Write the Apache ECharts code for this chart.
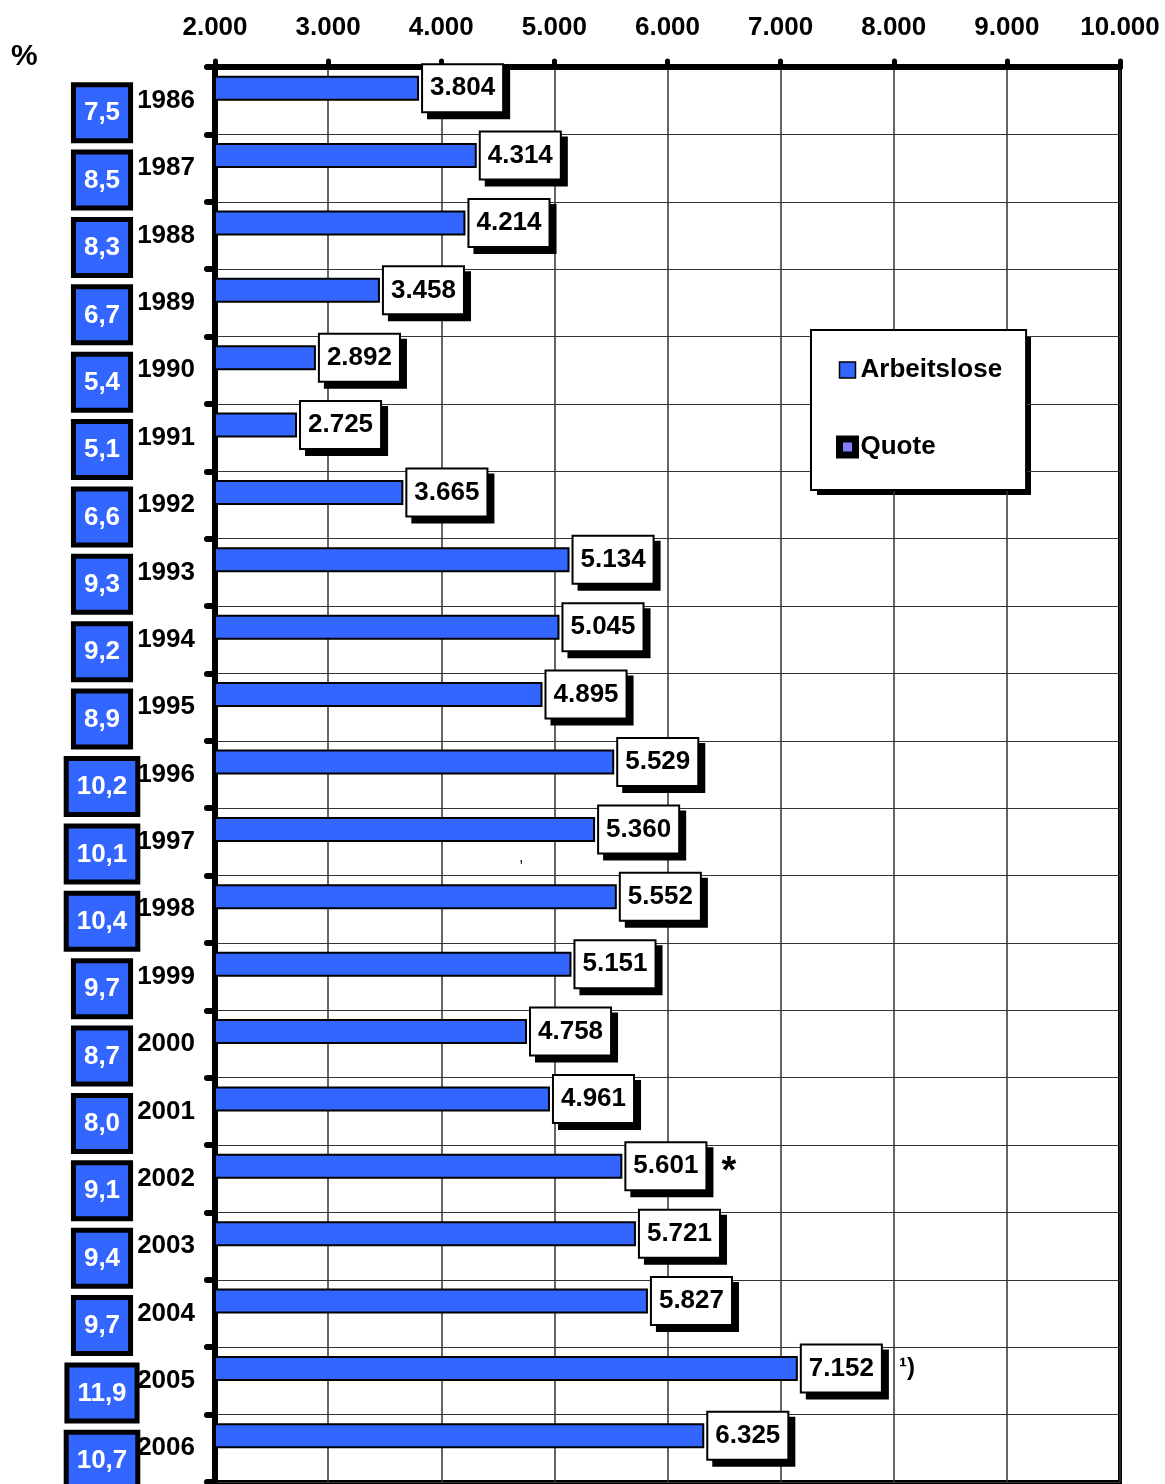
<!DOCTYPE html>
<html>
<head>
<meta charset="utf-8">
<script src="https://cdn.jsdelivr.net/npm/echarts@6/dist/echarts.min.js"></script>
<style>
html,body{margin:0;padding:0;background:#fff;}
#chart{width:1165px;height:1484px;}
</style>
</head>
<body>
<div id="chart"></div>
<script>
// ---- data ----
const years = ['1986','1987','1988','1989','1990','1991','1992','1993','1994','1995','1996','1997','1998','1999','2000','2001','2002','2003','2004','2005','2006'];
const arbeitslose = [3804,4314,4214,3458,2892,2725,3665,5134,5045,4895,5529,5360,5552,5151,4758,4961,5601,5721,5827,7152,6325];
const quote = ['7,5','8,5','8,3','6,7','5,4','5,1','6,6','9,3','9,2','8,9','10,2','10,1','10,4','9,7','8,7','8,0','9,1','9,4','9,7','11,9','10,7'];
const xTickValues = [2000,3000,4000,5000,6000,7000,8000,9000,10000];
const xTickLabels = ['2.000','3.000','4.000','5.000','6.000','7.000','8.000','9.000','10.000'];
const notes = {'2002':'*','2005':'¹)'};

const FONT = '"Liberation Sans", Arial, sans-serif';
const BLUE = '#3366ff';

function de(n){ return String(n).replace(/\B(?=(\d{3})+(?!\d))/g,'.'); }

const chart = echarts.init(document.getElementById('chart'), null, {renderer:'canvas'});
chart.setOption({
  backgroundColor:'#fff',
  animation:false,
  textStyle:{fontFamily:FONT},
  grid:{left:215, top:67, right:45, bottom:2, show:true, borderColor:'#000', borderWidth:4, containLabel:false, outerBoundsMode:'none'},
  legend:{
    orient:'vertical', left:811, top:330,
    padding:[25,24,28,25],
    itemGap:47, itemWidth:16, itemHeight:16,
    backgroundColor:'#fff', borderColor:'#000', borderWidth:2,
    textStyle:{fontSize:26, fontWeight:'bold', color:'#000', fontFamily:FONT, lineHeight:30},
    data:[
      {name:'Arbeitslose', icon:'rect', itemStyle:{color:BLUE, borderColor:'#000', borderWidth:1.5}},
      {name:'Quote', icon:'rect', itemStyle:{color:'#8080ff', borderColor:'#000', borderWidth:7}}
    ]
  },
  xAxis:{
    type:'value', position:'top', min:2000, max:10000, interval:1000,
    axisLine:{show:true, lineStyle:{color:'#000', width:6}},
    axisTick:{show:true, length:6, lineStyle:{color:'#000', width:5, cap:'round'}},
    splitLine:{show:true, lineStyle:{color:'#333', width:1.5}},
    axisLabel:{margin:26, fontSize:26, fontWeight:'bold', color:'#000', fontFamily:FONT,
      formatter:v => { const i = xTickValues.indexOf(v); return i>=0 ? xTickLabels[i] : de(v); }}
  },
  yAxis:[
    {
      type:'category', inverse:true, data:years, position:'left',
      axisLine:{show:true, lineStyle:{color:'#000', width:6}},
      axisTick:{show:true, length:8, lineStyle:{color:'#000', width:6, cap:'round'}},
      splitLine:{show:true, lineStyle:{color:'#333', width:1.2}},
      axisLabel:{margin:20, fontSize:26, fontWeight:'bold', color:'#000', fontFamily:FONT}
    },
    {
      type:'category', inverse:true, data:years, position:'left', offset:0,
      axisLine:{show:false}, axisTick:{show:false}, splitLine:{show:false},
      axisLabel:{
        margin:113, align:'center', padding:[24,0,0,0],
        formatter:(v, i) => '{q|' + quote[i] + '}',
        rich:{q:{fontSize:26, fontWeight:'bold', color:'#fff', fontFamily:FONT, lineHeight:30,
          backgroundColor:BLUE, borderColor:'#000', borderWidth:5, padding:[13,8,12,8]}}
      }
    }
  ],
  series:[
    {
      name:'Arbeitslose', type:'bar', yAxisIndex:0, data:arbeitslose,
      barWidth:25, barGap:'0%',
      itemStyle:{color:BLUE, borderColor:'#000', borderWidth:2},
      label:{
        show:true, position:'right', distance:4,
        formatter:p => '{v|' + de(p.value) + '}' + (notes[p.name] ? (p.name==='2002' ? '{s|' + notes[p.name] + '}' : '{n|' + notes[p.name] + '}') : ''),
        rich:{
          v:{fontSize:26, fontWeight:'bold', color:'#000', fontFamily:FONT, lineHeight:30,
            backgroundColor:'#fff', borderColor:'#000', borderWidth:2, padding:[10,7,10,7],
            shadowColor:'#000', shadowBlur:0, shadowOffsetX:6, shadowOffsetY:6},
          s:{fontSize:38, fontWeight:'bold', color:'#000', fontFamily:FONT, padding:[12,0,0,16]},
          n:{fontSize:24, fontWeight:'bold', color:'#000', fontFamily:FONT, padding:[0,0,0,18]}
        }
      }
    },
    {
      name:'Quote', type:'bar', yAxisIndex:0, data:[],
      barWidth:25, barGap:'0%',
      itemStyle:{color:'#8080ff', borderColor:'#000', borderWidth:2}
    }
  ],
  graphic:[
    {type:'rect', z:-1, zlevel:0, shape:{x:817, y:336, width:214, height:159}, style:{fill:'#000'}},
    {type:'text', left:11, top:42, style:{text:'%', fontSize:30, fontWeight:'bold', fill:'#000', fontFamily:FONT}},
    {type:'text', left:519, top:850, style:{text:',', fontSize:16, fill:'#000', fontFamily:FONT}}
  ]
});
</script>
</body>
</html>
